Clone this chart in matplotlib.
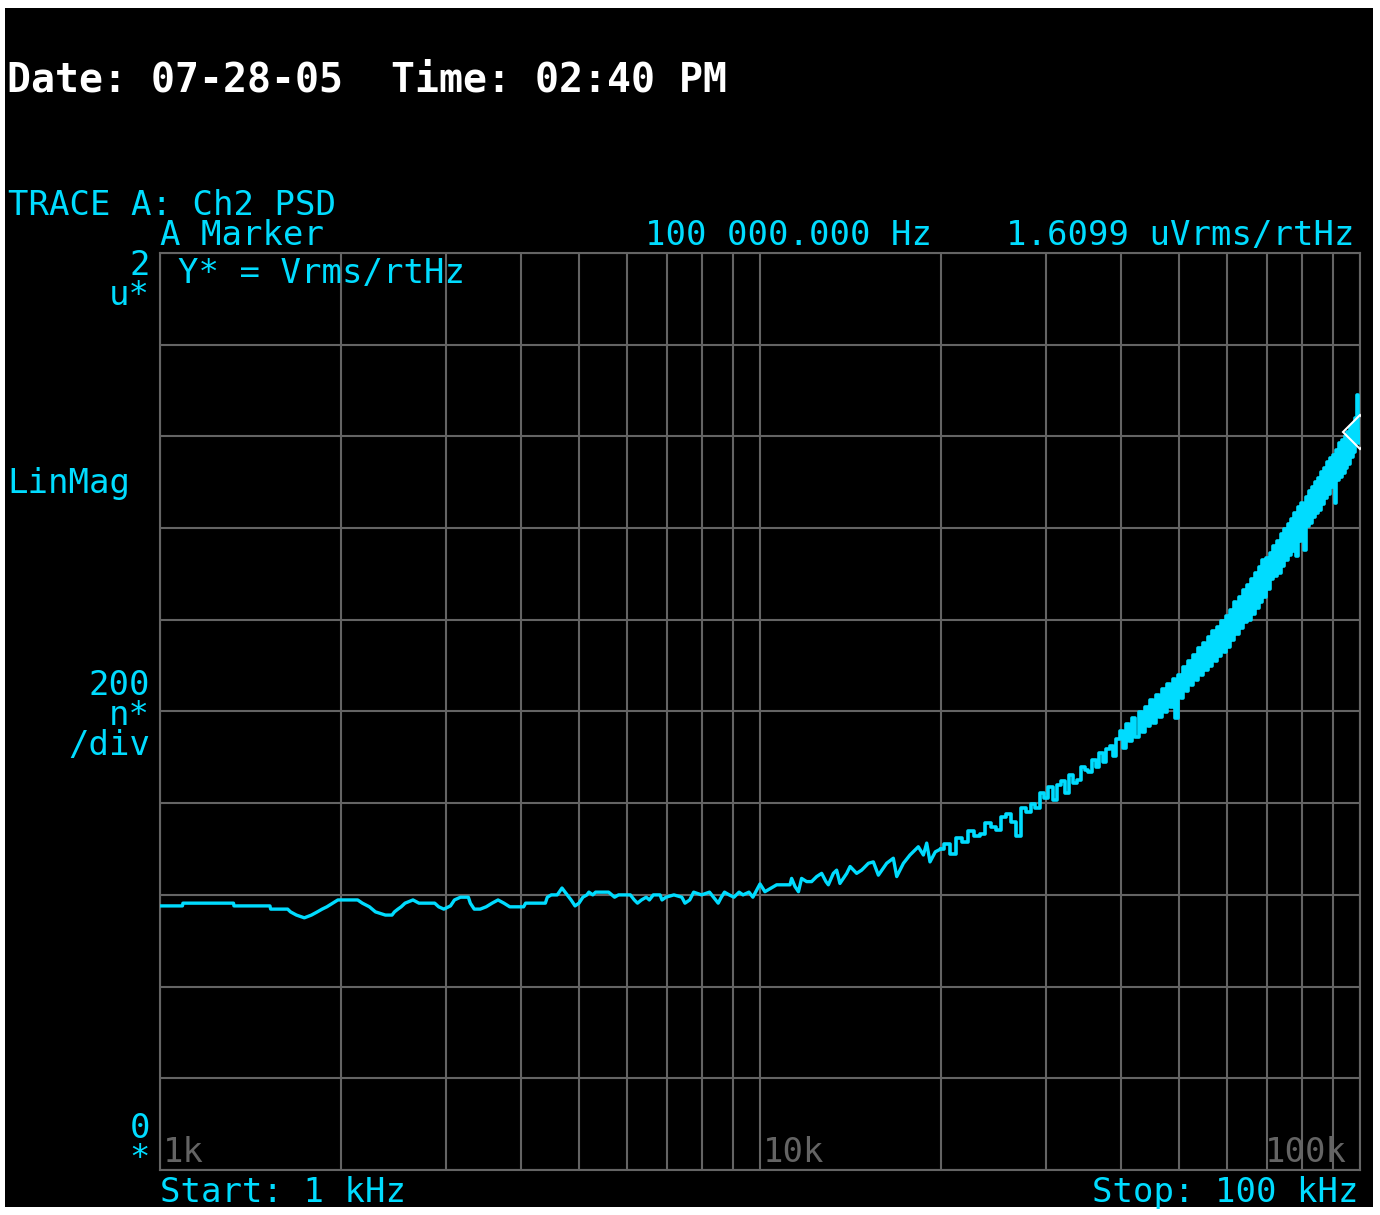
import numpy as np
import matplotlib.pyplot as plt
from matplotlib.ticker import LogLocator, MultipleLocator

W, H = 1380, 1215
CYAN = '#00dcff'
GRID = '#646464'
MONO = 'DejaVu Sans Mono'

# trace A up to 10 kHz, read point by point (kHz, uVrms/rtHz)
freq_lo = [1.000, 1.090, 1.092, 1.326, 1.328, 1.525, 1.529, 1.632, 1.650, 1.688,
           1.740, 1.788, 1.829, 1.863, 1.897, 1.941, 1.979, 2.135, 2.174, 2.234,
           2.286, 2.375, 2.436, 2.459, 2.492, 2.523, 2.561, 2.640, 2.701, 2.870,
           2.914, 2.972, 3.049, 3.096, 3.168, 3.265, 3.290, 3.340, 3.417, 3.496,
           3.577, 3.659, 3.743, 3.828, 4.037, 4.068, 4.388, 4.421, 4.489, 4.592,
           4.627, 4.677, 4.734, 4.785, 4.843, 4.917, 4.992, 5.068, 5.146, 5.186,
           5.264, 5.321, 5.594, 5.723, 5.811, 6.080, 6.173, 6.249, 6.345, 6.461,
           6.540, 6.640, 6.814, 6.866, 6.971, 7.186, 7.408, 7.498, 7.636, 7.752,
           7.991, 8.238, 8.364, 8.518, 8.621, 8.727, 8.886, 9.049, 9.229, 9.369,
           9.585, 9.730, 9.879, 10.00]
psd_lo = [0.576, 0.576, 0.582, 0.582, 0.576, 0.576, 0.569, 0.569, 0.563, 0.556,
          0.550, 0.556, 0.563, 0.569, 0.574, 0.582, 0.589, 0.589, 0.582, 0.574,
          0.563, 0.556, 0.556, 0.563, 0.569, 0.574, 0.582, 0.589, 0.582, 0.582,
          0.574, 0.569, 0.576, 0.589, 0.595, 0.595, 0.582, 0.569, 0.569, 0.574,
          0.582, 0.589, 0.582, 0.574, 0.574, 0.582, 0.582, 0.595, 0.600, 0.600,
          0.606, 0.615, 0.606, 0.598, 0.589, 0.576, 0.582, 0.595, 0.600, 0.606,
          0.600, 0.606, 0.606, 0.595, 0.600, 0.600, 0.589, 0.582, 0.589, 0.595,
          0.589, 0.600, 0.600, 0.589, 0.595, 0.600, 0.595, 0.582, 0.589, 0.606,
          0.600, 0.606, 0.595, 0.582, 0.595, 0.606, 0.600, 0.595, 0.606, 0.600,
          0.606, 0.595, 0.611, 0.624]

# 10 - 20 kHz, still read point by point
freq_mid = [10.19, 10.66, 11.22, 11.29, 11.44, 11.59, 11.73, 11.96, 12.19, 12.43,
            12.67, 12.88, 13.00, 13.25, 13.42, 13.59, 13.95, 14.13, 14.49, 14.77,
            15.16, 15.45, 15.75, 16.26, 16.68, 16.90, 17.34, 17.78, 18.36, 18.72,
            18.96, 19.20, 19.60]
psd_mid = [0.607, 0.622, 0.622, 0.636, 0.618, 0.607, 0.636, 0.629, 0.629, 0.640,
           0.647, 0.629, 0.622, 0.647, 0.654, 0.625, 0.647, 0.662, 0.647, 0.654,
           0.669, 0.672, 0.643, 0.669, 0.680, 0.640, 0.669, 0.687, 0.705, 0.687,
           0.713, 0.672, 0.694]

# from 20 kHz on the bins are too dense to separate: one value every 0.5 kHz
psd_hi = [0.700, 0.712, 0.690, 0.725, 0.716, 0.740, 0.728, 0.733, 0.756, 0.748,
          0.742, 0.770, 0.776, 0.760, 0.728, 0.790, 0.780, 0.798, 0.790, 0.822,
          0.812, 0.835, 0.808, 0.840, 0.848, 0.822, 0.862, 0.845, 0.850, 0.880,
          0.872, 0.868, 0.895, 0.880, 0.910, 0.890, 0.918, 0.925, 0.902, 0.940,
          0.958, 0.920, 0.972, 0.935, 0.985, 0.945, 0.998, 0.955, 1.010, 0.968,
          1.024, 0.976, 1.035, 0.988, 1.048, 0.998, 1.060, 1.010, 1.070, 0.985,
          1.080, 1.030, 1.098, 1.045, 1.110, 1.058, 1.124, 1.068, 1.138, 1.080,
          1.150, 1.090, 1.162, 1.100, 1.175, 1.110, 1.185, 1.122, 1.198, 1.130,
          1.208, 1.140, 1.222, 1.155, 1.238, 1.168, 1.250, 1.182, 1.265, 1.195,
          1.275, 1.200, 1.290, 1.212, 1.302, 1.225, 1.315, 1.238, 1.330, 1.250,
          1.335, 1.268, 1.345, 1.290, 1.362, 1.295, 1.372, 1.302, 1.388, 1.318,
          1.398, 1.330, 1.410, 1.342, 1.420, 1.350, 1.434, 1.340, 1.445, 1.372,
          1.455, 1.390, 1.352, 1.468, 1.405, 1.480, 1.412, 1.490, 1.425, 1.500,
          1.432, 1.510, 1.440, 1.522, 1.452, 1.532, 1.465, 1.545, 1.475, 1.552,
          1.490, 1.560, 1.455, 1.570, 1.505, 1.585, 1.512, 1.592, 1.520, 1.600,
          1.530, 1.610, 1.540, 1.620, 1.555, 1.628, 1.565, 1.640, 1.690, 1.585,
          1.610]
freq_hi = 20.0 + 0.5 * np.arange(len(psd_hi))

marker_freq = 100.0
marker_val = 1.6099

x_ticks = [1, 10, 100]
x_tick_labels = ['1k', '10k', '100k']


def ftext(x, y, s, **kw):
    # place text by pixel position of the screen dump
    kw.setdefault('family', MONO)
    kw.setdefault('fontsize', 24.5)
    kw.setdefault('color', CYAN)
    kw.setdefault('va', 'baseline')
    fig.text(x / W, 1 - y / H, s, **kw)


fig = plt.figure(figsize=(W / 100, H / 100), dpi=100, facecolor='white')

bg = fig.add_axes([5 / W, 1 - 1207 / H, 1368 / W, 1199 / H])
bg.set_facecolor('black')
bg.set_xticks([])
bg.set_yticks([])
for s in bg.spines.values():
    s.set_visible(False)

ax = fig.add_axes([160 / W, 1 - 1170 / H, 1200 / W, 917 / H])
ax.set_facecolor('black')
ax.set_xscale('log')
ax.set_xlim(1, 100)
ax.set_ylim(0, 2)
ax.xaxis.set_major_locator(LogLocator(base=10, subs=[1.0], numticks=10))
ax.xaxis.set_minor_locator(LogLocator(base=10, subs=np.arange(2, 10), numticks=30))
ax.yaxis.set_major_locator(MultipleLocator(0.2))
ax.set_axisbelow(True)
ax.grid(which='both', color=GRID, lw=1.5)
ax.tick_params(which='both', length=0, labelbottom=False, labelleft=False)
for s in ax.spines.values():
    s.set_color(GRID)
    s.set_linewidth(1.5)

ax.plot(freq_lo + freq_mid + [freq_hi[0]], psd_lo + psd_mid + [psd_hi[0]],
        color=CYAN, lw=2.4, zorder=3)
# dense bins drawn as held steps, like the analyser screen
ax.plot(freq_hi, psd_hi, color=CYAN, lw=2.6, drawstyle='steps-mid', zorder=3)
ax.plot([marker_freq], [marker_val], marker='D', ms=17, mfc='none',
        mec='white', mew=1.5, zorder=4)

for f, lab in zip(x_ticks, x_tick_labels):
    right = f == x_ticks[-1]
    ax.annotate(lab, xy=(f, 0), xycoords=('data', 'axes fraction'),
                xytext=(-13 if right else 3, 8), textcoords='offset pixels',
                ha='right' if right else 'left', va='baseline',
                family=MONO, fontsize=24.5, color=GRID)

ftext(7, 92, 'Date: 07-28-05  Time: 02:40 PM', color='white',
      fontsize=28.7, weight='bold')
ftext(8, 215, 'TRACE A: Ch2 PSD')
ftext(160, 245, 'A Marker')
ftext(932, 245, '100 000.000 Hz', ha='right')
ftext(1354, 245, '1.6099 uVrms/rtHz', ha='right')
ftext(178, 283, 'Y* = Vrms/rtHz')
ftext(150, 275, '2', ha='right')
ftext(150, 305, 'u*', ha='right')
ftext(7, 493, 'LinMag')
ftext(150, 695, '200', ha='right')
ftext(150, 725, 'n*', ha='right')
ftext(150, 755, '/div', ha='right')
ftext(150, 1138, '0', ha='right')
ftext(150, 1168, '*', ha='right')
ftext(160, 1202, 'Start: 1 kHz')
ftext(1358, 1202, 'Stop: 100 kHz', ha='right')

fig.savefig('out.png', dpi=100, facecolor='white')
